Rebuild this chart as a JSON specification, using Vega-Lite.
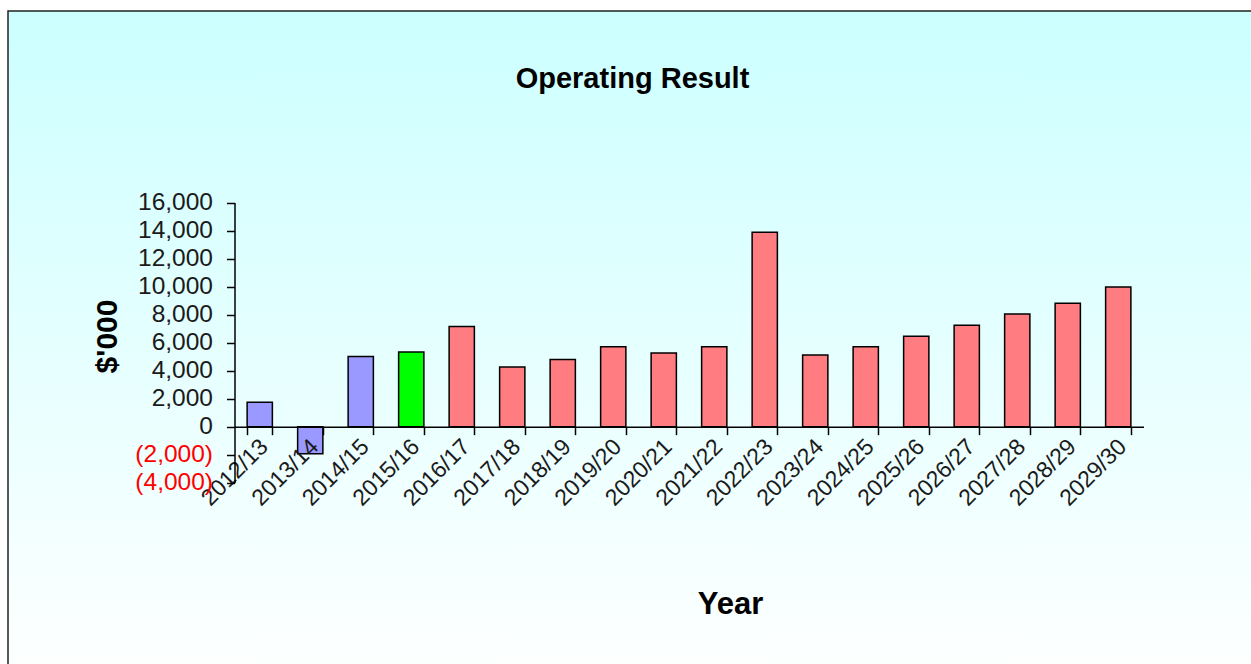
{
  "$schema": "https://vega.github.io/schema/vega-lite/v6.json",
  "autosize": {"type": "none"},
  "padding": {"left": 8, "top": 11, "right": 0, "bottom": 0},
  "width": 1243,
  "height": 653,
  "background": "#ffffff",
  "config": {
    "font": "Liberation Sans",
    "view": {
      "fill": {"gradient": "linear", "x1": 0, "y1": 0, "x2": 0, "y2": 1, "stops": [{"offset": 0, "color": "#ccffff"}, {"offset": 1, "color": "#fdffff"}]},
      "stroke": "#222222",
      "strokeWidth": 1.5,
      "strokeDash": [1243, 1896, 653]
    }
  },
  "title": {
    "text": "Operating Result",
    "anchor": "middle",
    "frame": "group",
    "font": "Liberation Sans",
    "fontSize": 29,
    "fontWeight": "bold",
    "color": "#000000",
    "baseline": "top",
    "offset": 0,
    "dx": 3,
    "dy": 83
  },
  "data": {
    "values": [
      {"year": "2012/13", "value": 1750, "group": "Past"},
      {"year": "2013/14", "value": -1930, "group": "Past"},
      {"year": "2014/15", "value": 5000, "group": "Past"},
      {"year": "2015/16", "value": 5330, "group": "Current"},
      {"year": "2016/17", "value": 7150, "group": "Forecast"},
      {"year": "2017/18", "value": 4250, "group": "Forecast"},
      {"year": "2018/19", "value": 4800, "group": "Forecast"},
      {"year": "2019/20", "value": 5700, "group": "Forecast"},
      {"year": "2020/21", "value": 5250, "group": "Forecast"},
      {"year": "2021/22", "value": 5700, "group": "Forecast"},
      {"year": "2022/23", "value": 13880, "group": "Forecast"},
      {"year": "2023/24", "value": 5120, "group": "Forecast"},
      {"year": "2024/25", "value": 5700, "group": "Forecast"},
      {"year": "2025/26", "value": 6460, "group": "Forecast"},
      {"year": "2026/27", "value": 7240, "group": "Forecast"},
      {"year": "2027/28", "value": 8050, "group": "Forecast"},
      {"year": "2028/29", "value": 8810, "group": "Forecast"},
      {"year": "2029/30", "value": 9960, "group": "Forecast"}
    ]
  },
  "mark": {"type": "bar", "stroke": "#000000", "strokeWidth": 1.5},
  "encoding": {
    "x": {
      "field": "year",
      "type": "nominal",
      "sort": null,
      "scale": {"range": [226.5, 1135.5], "paddingInner": 0.5, "paddingOuter": 0.25},
      "axis": {
        "zindex": 1,
        "title": "Year",
        "titleFont": "Liberation Sans",
        "titleFontSize": 31,
        "titleFontWeight": "bold",
        "titleColor": "#000000",
        "titleX": 722,
        "titleY": 178,
        "titleBaseline": "middle",
        "titleAlign": "center",
        "offset": -237.34,
        "domainColor": "#000000",
        "domainWidth": 1.5,
        "tickColor": "#000000",
        "tickWidth": 1.5,
        "tickSize": 8,
        "tickBand": "extent",
        "labelAngle": -45,
        "labelAlign": "right",
        "labelBaseline": "middle",
        "labelFont": "Liberation Sans",
        "labelFontSize": 23,
        "labelColor": "#1a1a1a",
        "labelPadding": 8,
        "labelOffset": 4,
        "labelOverlap": false,
        "labelBound": false,
        "labelFlush": false,
        "grid": false
      }
    },
    "y": {
      "field": "value",
      "type": "quantitative",
      "scale": {"domain": [-4000, 16000], "range": [471.7, 191.5], "nice": false, "zero": false},
      "axis": {
        "zindex": 1,
        "title": "$'000",
        "titleFont": "Liberation Sans",
        "titleFontSize": 30,
        "titleFontWeight": "bold",
        "titleColor": "#000000",
        "titleAngle": -90,
        "titleX": -127,
        "titleY": 325,
        "titleBaseline": "middle",
        "titleAlign": "center",
        "offset": -226.5,
        "values": [-4000, -2000, 0, 2000, 4000, 6000, 8000, 10000, 12000, 14000, 16000],
        "labelExpr": "datum.value < 0 ? '(' + format(-datum.value, ',') + ')' : format(datum.value, ',')",
        "labelColor": {"expr": "datum.value < 0 ? '#ff0000' : '#1a1a1a'"},
        "labelFont": "Liberation Sans",
        "labelFontSize": 24.5,
        "labelPadding": 14,
        "labelOverlap": false,
        "labelBound": false,
        "labelFlush": false,
        "domainColor": "#000000",
        "domainWidth": 1.5,
        "tickColor": "#000000",
        "tickWidth": 1.5,
        "tickSize": 8,
        "grid": false
      }
    },
    "color": {
      "field": "group",
      "type": "nominal",
      "scale": {"domain": ["Past", "Current", "Forecast"], "range": ["#9999ff", "#00ff00", "#ff7c80"]},
      "legend": null
    }
  }
}
